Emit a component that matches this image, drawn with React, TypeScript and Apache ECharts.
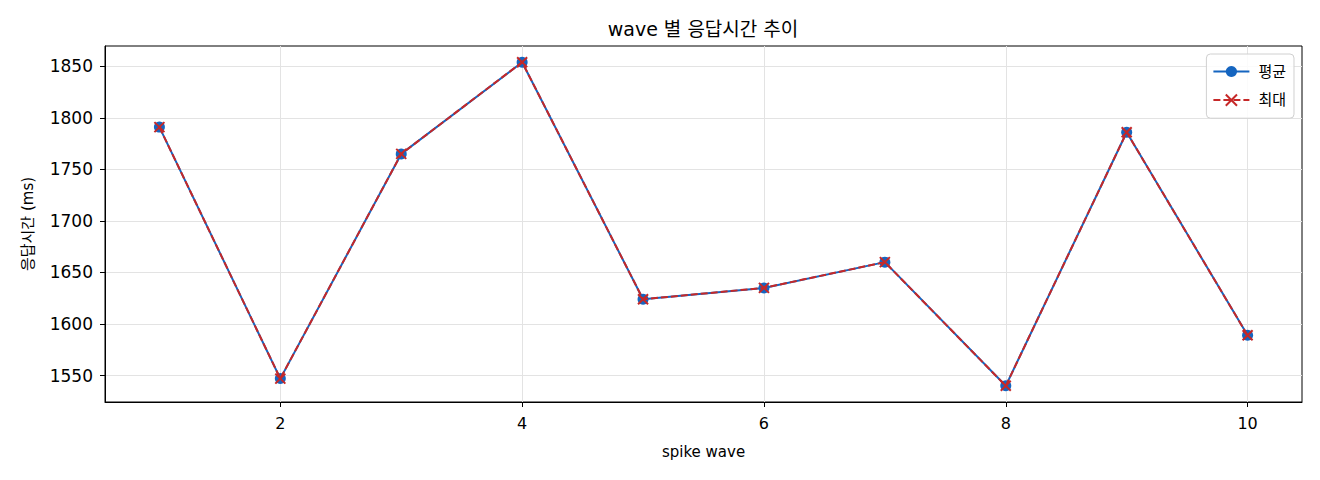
import React, { useEffect, useRef } from "react";
import * as echarts from "echarts";

const waves = [1, 2, 3, 4, 5, 6, 7, 8, 9, 10];
const avgValues = [1791, 1547, 1765, 1854, 1624, 1635, 1660, 1540, 1786, 1589];
const maxValues = [1791, 1547, 1765, 1854, 1624, 1635, 1660, 1540, 1786, 1589];
const xTicks = [2, 4, 6, 8, 10];
const yTicks = [1550, 1600, 1650, 1700, 1750, 1800, 1850];

const FONT = "'DejaVu Sans', 'Noto Sans CJK KR', sans-serif";
const BLUE = "#1565c0";
const RED = "#c62828";

export default function App() {
  const ref = useRef<HTMLDivElement>(null);
  useEffect(() => {
    if (!ref.current) return;
    const chart = echarts.init(ref.current, null, { renderer: "svg" });
    const xMin = 0.55;
    const xMax = 10.45;
    const yMin = 1524.3;
    const yMax = 1869.7;
    chart.setOption({
      animation: false,
      backgroundColor: "#ffffff",
      textStyle: { fontFamily: FONT },
      title: {
        text: "wave 별 응답시간 추이",
        left: 703,
        textAlign: "center",
        top: 19,
        padding: 0,
        textStyle: { fontFamily: FONT, fontSize: 19, fontWeight: "normal", color: "#000" },
      },
      legend: {
        orient: "vertical",
        right: 26,
        top: 54,
        padding: [10, 8, 10, 6],
        itemWidth: 36,
        itemHeight: 14,
        itemGap: 13,
        borderColor: "#d0d0d0",
        borderWidth: 1,
        borderRadius: 4,
        backgroundColor: "rgba(255,255,255,0.85)",
        textStyle: { fontFamily: FONT, fontSize: 15, color: "#000", padding: [0, 0, 0, 4] },
        data: ["평균", "최대"],
      },
      grid: {
        left: 105,
        right: 18,
        top: 46,
        bottom: 78,
        show: true,
        borderColor: "#000",
        borderWidth: 1,
        backgroundColor: "transparent",
      },
      xAxis: {
        type: "value",
        min: xMin,
        max: xMax,
        splitNumber: 5,
        name: "spike wave",
        nameLocation: "middle",
        nameGap: 42,
        nameTextStyle: { fontFamily: FONT, fontSize: 15, color: "#000" },
        axisLine: { show: true, onZero: false, lineStyle: { color: "#000", width: 1 } },
        axisTick: {
          show: true,
          length: 5,
          lineStyle: { color: "#000" },
          customValues: xTicks,
        },
        axisLabel: {
          fontFamily: FONT,
          fontSize: 16,
          color: "#000",
          margin: 13,
          customValues: xTicks,
          formatter: (v: number) => String(v),
        },
        splitLine: { show: true, lineStyle: { color: "#e3e3e3", width: 1 } },
      },
      yAxis: {
        type: "value",
        min: yMin,
        max: yMax,
        splitNumber: 5,
        name: "응답시간 (ms)",
        nameLocation: "middle",
        nameGap: 70,
        nameTextStyle: { fontFamily: FONT, fontSize: 15, color: "#000" },
        axisLine: { show: true, onZero: false, lineStyle: { color: "#000", width: 1 } },
        axisTick: {
          show: true,
          length: 5,
          lineStyle: { color: "#000" },
          customValues: yTicks,
        },
        axisLabel: {
          fontFamily: FONT,
          fontSize: 17,
          color: "#000",
          margin: 12,
          customValues: yTicks,
          formatter: (v: number) => String(v),
        },
        splitLine: { show: true, lineStyle: { color: "#e3e3e3", width: 1 } },
      },
      series: [
        {
          name: "평균",
          type: "line",
          data: waves.map((w, i) => [w, avgValues[i]]),
          symbol: "circle",
          symbolSize: 11,
          showAllSymbol: true,
          lineStyle: { color: BLUE, width: 2 },
          itemStyle: { color: BLUE },
          z: 2,
        },
        {
          name: "최대",
          type: "line",
          data: waves.map((w, i) => [w, maxValues[i]]),
          symbol: "path://M0,0L10,10M10,0L0,10",
          symbolSize: 10,
          showAllSymbol: true,
          lineStyle: { color: RED, width: 2, type: [7, 3] },
          itemStyle: { color: "none", borderColor: RED, borderWidth: 2 },
          z: 3,
        },
      ],
    });
    return () => chart.dispose();
  }, []);
  return (
    <div
      ref={ref}
      style={{ position: "fixed", left: 0, top: 0, width: 1320, height: 480, background: "#fff" }}
    />
  );
}
